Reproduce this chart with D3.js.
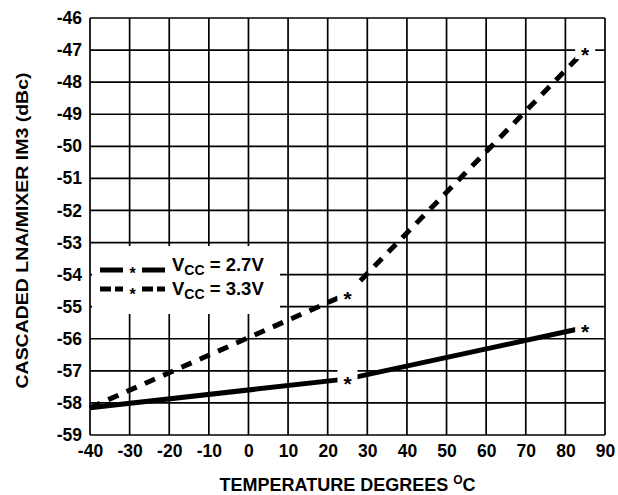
<!DOCTYPE html>
<html>
<head>
<meta charset="utf-8">
<script src="https://cdn.jsdelivr.net/npm/d3@7"></script>
<style>
  html, body { margin: 0; padding: 0; background: #fff; }
  svg { display: block; }
  text { font-family: "Liberation Sans", Arial, Helvetica, sans-serif; font-weight: bold; fill: #000; }
</style>
</head>
<body>
<svg id="chart" width="618" height="495"></svg>
<script>
// ---- data ----
const temps = [-40, 25, 85];
const im3Vcc27 = [-58.15, -57.25, -55.65];
const im3Vcc33 = [-58.15, -54.6, -47.0];
const xTickValues = [-40, -30, -20, -10, 0, 10, 20, 30, 40, 50, 60, 70, 80, 90];
const yTickValues = [-59, -58, -57, -56, -55, -54, -53, -52, -51, -50, -49, -48, -47, -46];
const seriesNames = ["2.7V", "3.3V"];

// ---- layout ----
const svg = d3.select("#chart");
const mLeft = 90, mRight = 605, mTop = 18, mBottom = 435;
const x = d3.scaleLinear().domain([-40, 90]).range([mLeft, mRight]);
const y = d3.scaleLinear().domain([-59, -46]).range([mBottom, mTop]);
const fmt = d => String(d);

// grid
const gridW = 1.7;
svg.append("g")
  .selectAll("line")
  .data(xTickValues)
  .join("line")
  .attr("x1", d => x(d)).attr("x2", d => x(d))
  .attr("y1", mTop).attr("y2", mBottom)
  .attr("stroke", "#000").attr("stroke-width", gridW);
svg.append("g")
  .selectAll("line")
  .data(yTickValues)
  .join("line")
  .attr("x1", mLeft).attr("x2", mRight)
  .attr("y1", d => y(d)).attr("y2", d => y(d))
  .attr("stroke", "#000").attr("stroke-width", gridW);

// axes (labels only)
const xAxis = svg.append("g")
  .attr("transform", `translate(0,${mBottom})`)
  .call(d3.axisBottom(x).tickValues(xTickValues).tickSize(0).tickPadding(10).tickFormat(fmt));
xAxis.select(".domain").remove();
xAxis.attr("font-family", null).attr("font-size", null);
xAxis.selectAll("text").style("font-size", "17.5px").attr("dy", "0.71em");

const yAxis = svg.append("g")
  .attr("transform", `translate(${mLeft},0)`)
  .call(d3.axisLeft(y).tickValues(yTickValues).tickSize(0).tickPadding(8).tickFormat(fmt));
yAxis.select(".domain").remove();
yAxis.attr("font-family", null).attr("font-size", null);
yAxis.selectAll("text").style("font-size", "17.5px");

// axis titles
const xt = svg.append("text")
  .attr("x", (mLeft + mRight) / 2).attr("y", 491)
  .attr("text-anchor", "middle")
  .style("font-size", "18px");
xt.append("tspan").text("TEMPERATURE DEGREES ");
xt.append("tspan").text("O").style("font-size", "12px").attr("dy", -7);
xt.append("tspan").text("C").attr("dy", 7);

svg.append("text")
  .attr("transform", `translate(28,${(mTop + mBottom) / 2 + 4}) rotate(-90)`)
  .attr("text-anchor", "middle")
  .style("font-size", "16.5px")
  .attr("textLength", 316)
  .attr("lengthAdjust", "spacingAndGlyphs")
  .text("CASCADED LNA/MIXER IM3 (dBc)");

// lines
const pts27 = temps.map((t, i) => [t, im3Vcc27[i]]);
const pts33 = temps.map((t, i) => [t, im3Vcc33[i]]);
const line = d3.line().x(d => x(d[0])).y(d => y(d[1]));

svg.append("path").datum(pts27)
  .attr("d", line).attr("fill", "none")
  .attr("stroke", "#000").attr("stroke-width", 5);
svg.append("path").datum(pts33)
  .attr("d", line).attr("fill", "none")
  .attr("stroke", "#000").attr("stroke-width", 5)
  .attr("stroke-dasharray", "11,9");

// star markers (skip first point) with white background
const starFs = 21;
function star(cx, cy, bg) {
  if (bg) {
    svg.append("rect")
      .attr("x", cx - 10).attr("y", cy - 9)
      .attr("width", 20).attr("height", 18)
      .attr("fill", "#fff");
  }
  svg.append("text")
    .attr("x", cx).attr("y", cy + starFs * 0.56)
    .attr("text-anchor", "middle")
    .style("font-size", starFs + "px")
    .text("*");
}
[pts27, pts33].forEach(pts => {
  pts.slice(1).forEach(d => star(x(d[0]), y(d[1]), true));
});

// legend
const lg = svg.append("g");
const legStarFs = 16;
lg.append("rect").attr("x", 92).attr("y", 246).attr("width", 188).attr("height", 68).attr("fill", "#fff");
const rows = [
  { name: seriesNames[0], yl: 270, ys: 270, yt: 271, dash: null },
  { name: seriesNames[1], yl: 289, ys: 291, yt: 295, dash: "11,4" }
];
rows.forEach(r => {
  [[100, 123], [142, 165]].forEach(seg => {
    lg.append("line")
      .attr("x1", seg[0]).attr("x2", seg[1])
      .attr("y1", r.yl).attr("y2", r.yl)
      .attr("stroke", "#000").attr("stroke-width", 5)
      .attr("stroke-dasharray", r.dash);
  });
  lg.append("text")
    .attr("x", 132.5).attr("y", r.ys + legStarFs * 0.57)
    .attr("text-anchor", "middle")
    .style("font-size", legStarFs + "px")
    .text("*");
  const t = lg.append("text").attr("x", 172).attr("y", r.yt).style("font-size", "18.5px");
  t.append("tspan").text("V");
  t.append("tspan").text("CC").style("font-size", "14px").attr("dy", 4);
  t.append("tspan").text(" = " + r.name).attr("dy", -4);
});
</script>
</body>
</html>
